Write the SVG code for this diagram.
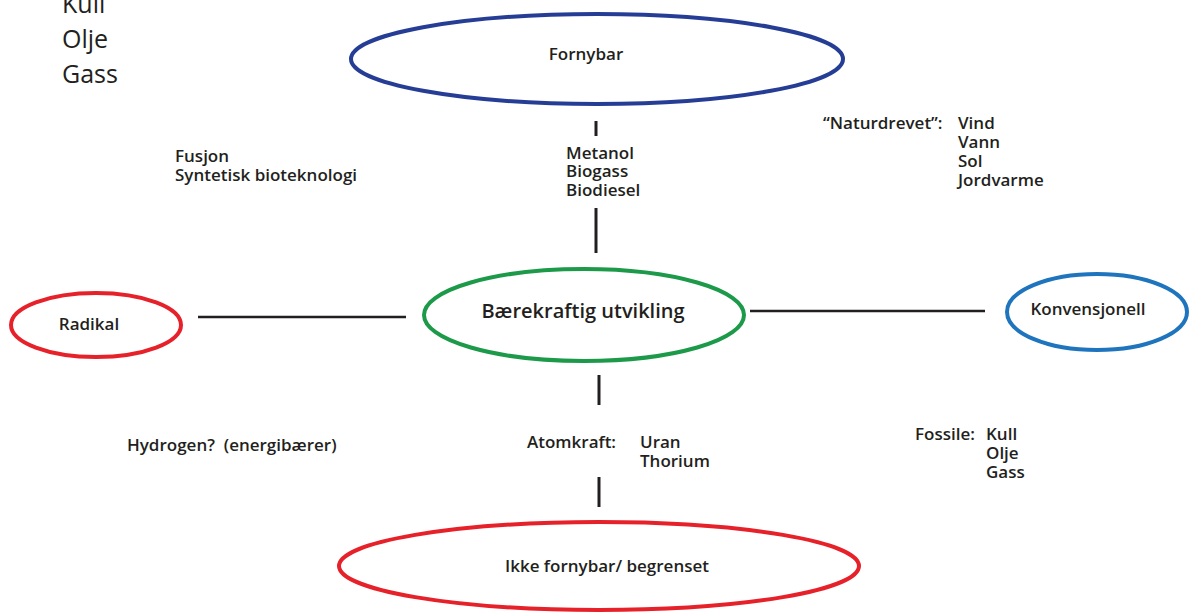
<svg xmlns="http://www.w3.org/2000/svg" width="1189" height="613" viewBox="0 0 1189 613">
<style>
.t{font-family:"Open Sans","Liberation Sans",sans-serif;font-weight:600;font-size:17px;fill:#231f20}
.big{font-size:20px}
.reg{font-family:"Open Sans","Liberation Sans",sans-serif;font-weight:400;font-size:25px;fill:#231f20}
.e{fill:none;stroke-width:4}
.c{stroke:#231f20;stroke-width:2.5;fill:none}
.v{stroke:#231f20;stroke-width:3;fill:none}
</style>
<rect width="1189" height="613" fill="#fff"/>
<g id="topleft">
<text class="reg" x="62" y="13">Kull</text>
<text class="reg" x="62" y="48">Olje</text>
<text class="reg" x="62" y="83">Gass</text>
</g>
<g id="connectors">
<line class="v" x1="596" y1="121" x2="596" y2="136"/>
<line class="v" x1="596" y1="208" x2="596" y2="253"/>
<line class="c" x1="198" y1="317" x2="406" y2="317"/>
<line class="c" x1="750" y1="311" x2="985" y2="311"/>
<line class="v" x1="599" y1="375" x2="599" y2="405"/>
<line class="v" x1="599" y1="477" x2="599" y2="507"/>
</g>
<g id="fornybar">
<ellipse class="e" cx="597" cy="59" rx="246" ry="45" stroke="#263d96"/>
<text class="t" x="586" y="60" text-anchor="middle">Fornybar</text>
</g>
<g id="baerekraftig">
<ellipse class="e" cx="584" cy="315" rx="160" ry="46" stroke="#1c9a49"/>
<text class="t big" x="583" y="318" text-anchor="middle">Bærekraftig utvikling</text>
</g>
<g id="radikal">
<ellipse class="e" cx="96" cy="325" rx="85" ry="32" stroke="#e62129"/>
<text class="t" x="89" y="330" text-anchor="middle">Radikal</text>
</g>
<g id="konvensjonell">
<ellipse class="e" cx="1097" cy="312" rx="90" ry="38" stroke="#1f75bd"/>
<text class="t" x="1088" y="315" text-anchor="middle">Konvensjonell</text>
</g>
<g id="ikkefornybar">
<ellipse class="e" cx="599" cy="566" rx="260" ry="44" stroke="#e62129"/>
<text class="t" x="607" y="572" text-anchor="middle">Ikke fornybar/ begrenset</text>
</g>
<g id="labels">
<text class="t" x="566" y="159">Metanol</text>
<text class="t" x="566" y="177">Biogass</text>
<text class="t" x="566" y="196">Biodiesel</text>
<text class="t" x="823" y="129">“Naturdrevet”:</text>
<text class="t" x="958" y="129">Vind</text>
<text class="t" x="958" y="148">Vann</text>
<text class="t" x="958" y="167">Sol</text>
<text class="t" x="958" y="186">Jordvarme</text>
<text class="t" x="175" y="162">Fusjon</text>
<text class="t" x="175" y="181">Syntetisk bioteknologi</text>
<text class="t" x="127" y="451" style="white-space:pre">Hydrogen?  (energibærer)</text>
<text class="t" x="527" y="448">Atomkraft:</text>
<text class="t" x="640" y="448">Uran</text>
<text class="t" x="640" y="467">Thorium</text>
<text class="t" x="915" y="440">Fossile:</text>
<text class="t" x="986" y="440">Kull</text>
<text class="t" x="986" y="459">Olje</text>
<text class="t" x="986" y="478">Gass</text>
</g>
</svg>
